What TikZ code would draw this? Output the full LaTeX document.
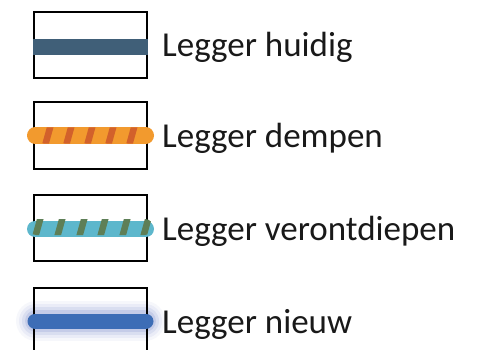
\documentclass[tikz,border=0pt]{standalone}
\usepackage{fontspec}
\setmainfont{Carlito}
\usepackage{xcolor}
\usetikzlibrary{positioning}

\definecolor{huidigblue}{HTML}{405F78}
\definecolor{dempenorange}{HTML}{F29A2E}
\definecolor{dempenstripe}{HTML}{D2612B}
\definecolor{ondiepblue}{HTML}{5DB7CC}
\definecolor{ondiepstripe}{HTML}{5E7F57}
\definecolor{nieuwblue}{HTML}{3D6DB6}
\definecolor{nieuwglow}{HTML}{4A5FB8}

\tikzset{
  legbox/.style={draw=black, line width=2pt, minimum width=113pt,
    minimum height=66pt, inner sep=0pt},
  legtext/.style={anchor=base west, inner sep=0pt,
    font=\fontsize{35}{42}\selectfont, text=black!90},
  legline/.style={line width=16pt, line cap=round, shorten <=2pt, shorten >=2pt},
}

\begin{document}
\begin{tikzpicture}[x=1pt,y=-1pt]
                \clip (0,0) rectangle (495,350);
                % boxes
                \node[legbox] (box1) at (90.5,45) {};
                \node[legbox] (box2) at (90.5,135.5) {};
                \node[legbox] (box3) at (90.5,228) {};
                % huidig
                \draw[huidigblue, line width=16pt] ([yshift=-2pt]box1.west) -- ([yshift=-2pt]box1.east);
                % dempen
                \draw[legline, dempenorange] (box2.west) -- (box2.east);
                \begin{scope}
                    \clip[rounded corners=8pt] (28,127.5) rectangle (153,143.5);
                    \foreach \sx in {48,69,90,111,132}
                        \draw[dempenstripe, line width=6.5pt]
                            (\sx-2.5,144) -- (\sx+2.5,126);
                \end{scope}
                % verontdiepen
                \draw[legline, ondiepblue] ([yshift=-1pt]box3.west) -- ([yshift=-1pt]box3.east);
                \begin{scope}
                    \clip[rounded corners=8pt] (28,219) rectangle (153,235);
                    \foreach \sx in {38,60,82,103,125,146}
                        \draw[ondiepstripe, line width=6.5pt]
                            (\sx-2.5,236) -- (\sx+2.5,218);
                \end{scope}
                % nieuw
                \foreach \w/\o in {40/0.05,34/0.07,28/0.1,22/0.14}
                    \draw[nieuwglow, line width=\w pt, line cap=round, opacity=\o]
                        (36,321) -- (145,321);
                \node[legbox] (box4) at (90.5,321) {};
                \draw[legline, nieuwblue, line width=15pt] (box4.west) -- (box4.east);
                % labels
                \node[legtext] (lbl1) at ([xshift=14pt,yshift=-12pt]box1.east) {Legger huidig};
                \node[legtext] (lbl2) at ([xshift=14pt,yshift=-12pt]box2.east) {Legger dempen};
                \node[legtext] (lbl3) at ([xshift=14pt,yshift=-12pt]box3.east) {Legger verontdiepen};
                \node[legtext] (lbl4) at ([xshift=14pt,yshift=-12pt]box4.east) {Legger nieuw};
            \end{tikzpicture}
\end{document}
